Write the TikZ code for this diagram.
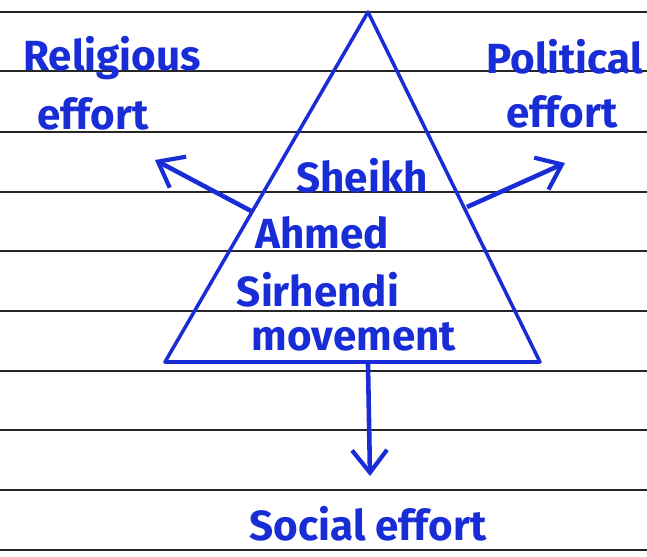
\documentclass[tikz,border=0pt]{standalone}
\usepackage{fontspec}
\setmainfont{Fira Sans}
\usetikzlibrary{arrows.meta}
\definecolor{penblue}{RGB}{25,45,215}

\begin{document}
\begin{tikzpicture}[x=0.02cm,y=-0.02cm]
\tikzstyle{every node}+=[inner sep=0pt, text=penblue, font=\fontsize{24}{28}\selectfont\bfseries]
\tikzstyle{rule}=[black!85, line width=0.9pt]
\tikzstyle{pen}=[penblue, line width=2pt, line join=round]
\tikzstyle{effortarrow}=[penblue, line width=2.6pt, -{Straight Barb[length=4.5mm,width=7mm,line width=2.4pt]}]
\useasboundingbox (0,0) rectangle (647,556);
% ruled paper
\foreach \y in {12,71,132,192,251,311,371,430,490,550}
  \draw [rule] (0,\y) -- (647,\y);
% triangle
\coordinate (apex) at (368,12);
\coordinate (bl) at (165,362);
\coordinate (br) at (540,362);
\draw [pen] (apex) -- (bl) -- (br) -- cycle;
\draw [pen, line width=2.8pt] (bl) -- (br);
% text inside
\node (sheikh) at (362,176) {Sheikh};
\node (ahmed) at (322,233) {Ahmed};
\node (sirhendi) at (318,290) {Sirhendi};
\node (movement) at (354,337) {movement};
% efforts
\node (religious) at (112,58) {Religious};
\node (releffort) at (93,114) {effort};
\node [anchor=east] (political) at (643,57) {Political};
\node (poleffort) at (562,112) {effort};
\node (social) at (368,524) {Social effort};
% arrows
\coordinate (lstart) at (253,212);
\coordinate (ltip) at (155,160);
\coordinate (rstart) at (467,207);
\coordinate (rtip) at (565,163);
\coordinate (dstart) at (368,364);
\coordinate (dtip) at (370,476);
\draw [effortarrow] (lstart) -- (ltip);
\draw [effortarrow] (rstart) -- (rtip);
\draw [effortarrow] (dstart) -- (dtip);
\end{tikzpicture}
\end{document}
